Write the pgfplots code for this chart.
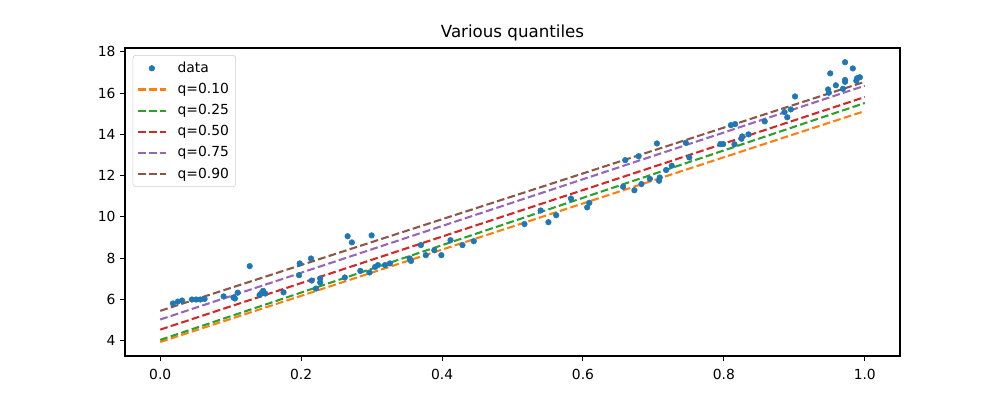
\documentclass[border=0pt]{standalone}
\usepackage{pgfplots}
\pgfplotsset{compat=1.18}
\usepackage{pgfplotstable}
\usepackage{fontspec}
\setmainfont{DejaVu Sans}
\definecolor{C0}{HTML}{1F77B4}
\definecolor{C1}{HTML}{FF7F0E}
\definecolor{C2}{HTML}{2CA02C}
\definecolor{C3}{HTML}{D62728}
\definecolor{C4}{HTML}{9467BD}
\definecolor{C5}{HTML}{8C564B}
\pgfplotstableread{
x y
0.018 5.80
0.025 5.89
0.031 5.94
0.045 5.99
0.051 5.99
0.057 5.99
0.063 6.02
0.090 6.14
0.104 6.09
0.106 6.04
0.110 6.32
0.127 7.61
0.141 6.21
0.144 6.31
0.146 6.41
0.149 6.28
0.175 6.34
0.197 7.17
0.198 7.74
0.214 7.98
0.215 6.91
0.221 6.52
0.227 7.01
0.227 6.82
0.262 7.06
0.266 9.06
0.272 8.76
0.284 7.38
0.297 7.30
0.300 9.10
0.305 7.57
0.309 7.66
0.319 7.66
0.326 7.74
0.354 7.98
0.356 7.86
0.370 8.63
0.377 8.14
0.389 8.38
0.399 8.14
0.412 8.87
0.429 8.63
0.445 8.82
0.517 9.65
0.540 10.31
0.551 9.74
0.562 10.08
0.583 10.89
0.606 10.46
0.609 10.68
0.657 11.46
0.660 12.75
0.673 11.29
0.679 12.94
0.683 11.59
0.695 11.84
0.705 13.56
0.708 11.75
0.709 11.91
0.718 12.27
0.726 12.48
0.746 13.59
0.751 12.88
0.795 13.53
0.799 13.53
0.810 14.45
0.815 13.52
0.816 14.50
0.825 13.79
0.826 13.90
0.835 14.00
0.858 14.63
0.886 15.08
0.890 14.83
0.895 15.21
0.901 15.84
0.948 16.18
0.949 16.02
0.951 16.96
0.959 16.38
0.969 16.21
0.972 17.50
0.972 16.55
0.972 16.64
0.983 17.20
0.988 16.60
0.989 16.72
0.993 16.77
}\datatable
\begin{document}
\begin{tikzpicture}
\path[use as bounding box] (0pt,0pt) rectangle (750pt,300pt);
\begin{axis}[
  at={(93.75pt,33pt)}, anchor=south west,
  scale only axis, width=581.25pt, height=231pt,
  xmin=-0.05, xmax=1.05, ymin=3.25, ymax=18.19,
  xtick={0,0.2,0.4,0.6,0.8,1.0},
  ytick={4,6,8,10,12,14,16,18},
  xtick pos=left, ytick pos=left,
  xticklabel style={/pgf/number format/.cd,fixed,fixed zerofill,precision=1},
  xticklabel shift=2.5pt,
  /pgf/number format/assume math mode=true,
  tick align=outside, major tick length=3.65pt,
  tick style={black, line width=0.8pt},
  axis line style={line width=0.8pt},
  tick label style={font=\fontsize{10.4}{12}\selectfont},
  title={Various quantiles},
  title style={font=\fontsize{12.5}{15}\selectfont, yshift=-4.5pt},
  legend style={at={(0.0099,0.977)}, anchor=north west, draw=black!20, rounded corners=2pt,
    font=\fontsize{10.4}{12}\selectfont, row sep=2.6pt, inner sep=3pt},
  legend cell align=left,
  legend image code/.code={\draw[mark repeat=2,mark phase=2] plot coordinates {(0pt,0pt)(10.4pt,0pt)(20.8pt,0pt)}; \path (27pt,0pt);},
  clip=true,
]
\addplot[only marks, mark=*, mark size=2.1pt, color=C0, mark options={draw=C0, fill=C0}] table[x=x,y=y] {\datatable};
\addlegendentry{data}
\addplot[C1, line width=1.56pt, dash pattern=on 5.8pt off 2.5pt] coordinates {(0,3.93) (1,15.13)};
\addlegendentry{q=0.10}
\addplot[C2, line width=1.56pt, dash pattern=on 5.8pt off 2.5pt] coordinates {(0,4.03) (1,15.52)};
\addlegendentry{q=0.25}
\addplot[C3, line width=1.56pt, dash pattern=on 5.8pt off 2.5pt] coordinates {(0,4.53) (1,15.81)};
\addlegendentry{q=0.50}
\addplot[C4, line width=1.56pt, dash pattern=on 5.8pt off 2.5pt] coordinates {(0,5.02) (1,16.36)};
\addlegendentry{q=0.75}
\addplot[C5, line width=1.56pt, dash pattern=on 5.8pt off 2.5pt] coordinates {(0,5.44) (1,16.55)};
\addlegendentry{q=0.90}
\end{axis}
\end{tikzpicture}
\end{document}
